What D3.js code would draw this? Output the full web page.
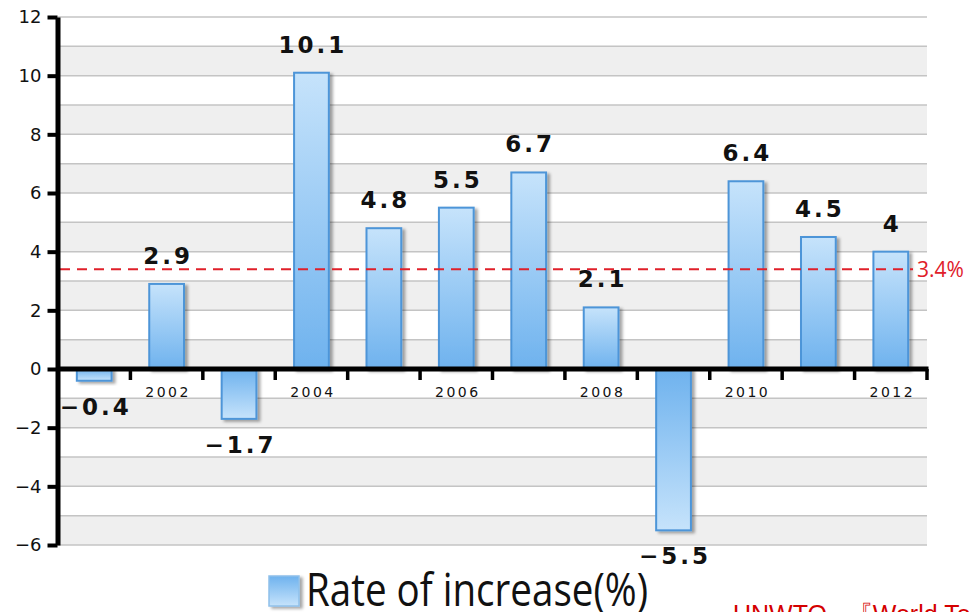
<!DOCTYPE html>
<html>
<head>
<meta charset="utf-8">
<script src="https://cdn.jsdelivr.net/npm/d3@7"></script>
<style>
  html, body { margin: 0; padding: 0; background: #fff; overflow: hidden; }
  svg { display: block; }
</style>
</head>
<body>
<svg id="chart" width="969" height="612"></svg>
<script>
// ---- data ----
const years = [2001, 2002, 2003, 2004, 2005, 2006, 2007, 2008, 2009, 2010, 2011, 2012];
const values = [-0.4, 2.9, -1.7, 10.1, 4.8, 5.5, 6.7, 2.1, -5.5, 6.4, 4.5, 4];
const averageValue = 3.4;
const averageLabel = "3.4%";
const yTickValues = [-6, -4, -2, 0, 2, 4, 6, 8, 10, 12];
const xLabelYears = [2002, 2004, 2006, 2008, 2010, 2012];
const legendLabel = "Rate of increase(%)";
const sourceLabel = "UNWTO –『World Tourism Barometer』";

// ---- layout ----
const plotLeft = 58, plotRight = 927, plotTop = 17, plotBottom = 545;
const svg = d3.select("#chart");

const x = d3.scaleBand().domain(years).range([plotLeft, plotRight]).padding(0);
const y = d3.scaleLinear().domain([-6, 12]).range([plotBottom, plotTop]);
const bw = x.bandwidth();
const barW = bw * 0.48;

const defs = svg.append("defs");
const gPos = defs.append("linearGradient").attr("id", "gPos").attr("x1", 0).attr("y1", 0).attr("x2", 0).attr("y2", 1);
gPos.append("stop").attr("offset", "0%").attr("stop-color", "#c6e3fb");
gPos.append("stop").attr("offset", "100%").attr("stop-color", "#6eb2ee");
const gNeg = defs.append("linearGradient").attr("id", "gNeg").attr("x1", 0).attr("y1", 0).attr("x2", 0).attr("y2", 1);
gNeg.append("stop").attr("offset", "0%").attr("stop-color", "#6eb2ee");
gNeg.append("stop").attr("offset", "100%").attr("stop-color", "#c6e3fb");
const gLeg = defs.append("linearGradient").attr("id", "gLeg").attr("x1", 0).attr("y1", 0).attr("x2", 0).attr("y2", 1);
gLeg.append("stop").attr("offset", "0%").attr("stop-color", "#6eb2ee");
gLeg.append("stop").attr("offset", "100%").attr("stop-color", "#c6e3fb");
const shadow = defs.append("filter").attr("id", "shadow").attr("x", "-20%").attr("y", "-20%").attr("width", "160%").attr("height", "160%");
shadow.append("feDropShadow").attr("dx", 3).attr("dy", 2).attr("stdDeviation", 1.5)
  .attr("flood-color", "#000").attr("flood-opacity", 0.35);

// ---- background bands and gridlines ----
const bandLows = d3.range(-6, 12, 2);
svg.append("g").selectAll("rect").data(bandLows).join("rect")
  .attr("x", plotLeft).attr("width", plotRight - plotLeft)
  .attr("y", d => y(d + 1)).attr("height", d => y(d) - y(d + 1))
  .attr("fill", "#efefef");

const gridVals = d3.range(-6, 13, 1);
svg.append("g").selectAll("line").data(gridVals).join("line")
  .attr("x1", plotLeft).attr("x2", plotRight)
  .attr("y1", d => y(d)).attr("y2", d => y(d))
  .attr("stroke", "#c4c4c4").attr("stroke-width", 1.5);

// ---- bars ----
const data = years.map((yr, i) => ({ year: yr, value: values[i] }));
svg.append("g").selectAll("rect").data(data).join("rect")
  .attr("x", d => x(d.year) + (bw - barW) / 2)
  .attr("width", barW)
  .attr("y", d => y(Math.max(0, d.value)))
  .attr("height", d => Math.abs(y(d.value) - y(0)))
  .attr("fill", d => d.value >= 0 ? "url(#gPos)" : "url(#gNeg)")
  .attr("stroke", "#4d95d8").attr("stroke-width", 2)
  .attr("filter", "url(#shadow)");

// ---- value labels ----
const fmt = v => String(v).replace("-", "\u2212");
svg.append("g").selectAll("text").data(data).join("text")
  .attr("x", d => x(d.year) + bw / 2 + 1.5)
  .attr("y", d => d.value >= 0 ? y(d.value) - 20 : y(d.value) + 34)
  .attr("text-anchor", "middle")
  .attr("font-family", "DejaVu Sans, sans-serif")
  .attr("font-weight", "bold")
  .attr("font-size", 23)
  .attr("letter-spacing", 3)
  .attr("fill", "#111")
  .text(d => fmt(d.value));

// ---- average line ----
svg.append("line")
  .attr("x1", plotLeft + 2).attr("x2", 913)
  .attr("y1", y(averageValue)).attr("y2", y(averageValue))
  .attr("stroke", "#e0202a").attr("stroke-width", 2)
  .attr("stroke-dasharray", "10,7");
svg.append("text")
  .attr("x", 917).attr("y", y(averageValue) + 7.5)
  .attr("font-family", "Open Sans, sans-serif")
  .attr("font-size", 21)
  .attr("fill", "#e0202a")
  .text(averageLabel);

// ---- y axis ----
const yAxis = d3.axisLeft(y).tickValues(yTickValues).tickSize(10).tickSizeOuter(0).tickPadding(6)
  .tickFormat(d => fmt(d));
const gy = svg.append("g").attr("transform", `translate(${plotLeft - 0.5},0)`).call(yAxis);
gy.select(".domain").attr("stroke", "#000").attr("stroke-width", 5);
gy.selectAll(".tick line").attr("stroke", "#000").attr("stroke-width", 4);
gy.selectAll(".tick text")
  .attr("font-family", "DejaVu Sans, sans-serif")
  .attr("font-size", 18)
  .attr("fill", "#111");

// ---- x axis ----
const y0 = y(0);
const gx = svg.append("g");
gx.append("line").attr("x1", plotLeft - 2).attr("x2", plotRight + 1.5).attr("y1", y0).attr("y2", y0)
  .attr("stroke", "#000").attr("stroke-width", 5);
const boundaries = years.slice(1).map(yr => x(yr)).concat([plotRight]);
gx.selectAll("line.tk").data(boundaries).join("line").attr("class", "tk")
  .attr("x1", d => d).attr("x2", d => d)
  .attr("y1", y0).attr("y2", y0 + 11)
  .attr("stroke", "#000").attr("stroke-width", 3.5);
gx.selectAll("text").data(xLabelYears).join("text")
  .attr("x", d => x(d) + bw / 2 + 1.5)
  .attr("y", y0 + 28)
  .attr("text-anchor", "middle")
  .attr("font-family", "DejaVu Sans, sans-serif")
  .attr("font-size", 14)
  .attr("letter-spacing", 2.5)
  .attr("fill", "#111")
  .text(d => d);

// ---- legend ----
const lg = svg.append("g");
lg.append("rect").attr("x", 269).attr("y", 576).attr("width", 30).attr("height", 30)
  .attr("fill", "url(#gLeg)").attr("stroke", "#8fc0ea").attr("stroke-width", 1.5)
  .attr("filter", "url(#shadow)");
lg.append("text").attr("x", 306).attr("y", 606)
  .attr("font-family", "Open Sans, sans-serif")
  .attr("font-size", 45)
  .attr("textLength", 342).attr("lengthAdjust", "spacingAndGlyphs")
  .attr("fill", "#111")
  .text(legendLabel);

// ---- source ----
svg.append("text").attr("x", 733).attr("y", 623)
  .attr("font-family", "Liberation Sans, Arial, sans-serif")
  .attr("font-size", 25)
  .attr("fill", "#d40000")
  .text(sourceLabel);
</script>
</body>
</html>
